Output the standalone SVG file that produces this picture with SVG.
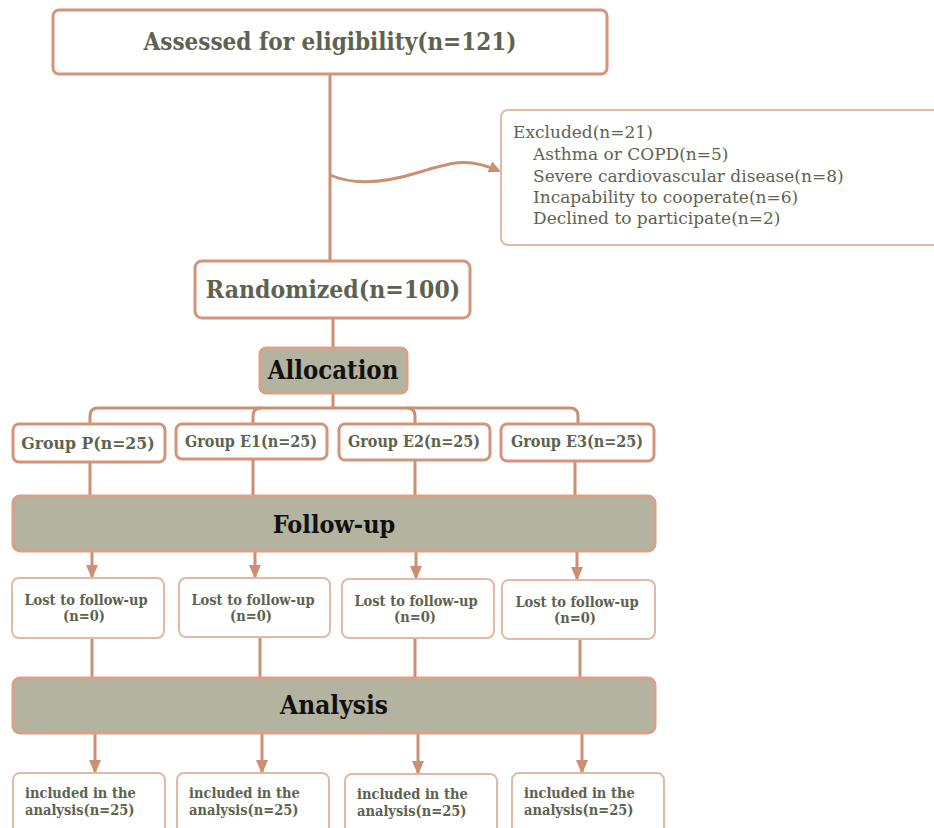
<svg xmlns="http://www.w3.org/2000/svg" width="934" height="828" viewBox="0 0 934 828">
<defs>
<style>
.box{fill:#ffffff;stroke:#d39479;stroke-width:3}
.thin{fill:#ffffff;stroke:#e3b9a6;stroke-width:2}
.grey{fill:#b3b3a0;stroke:#d9a187;stroke-width:3}
.t{font-family:"DejaVu Serif Condensed","DejaVu Serif",serif;fill:#5e634f}
.r{font-family:"DejaVu Serif",serif}
.b{font-weight:bold}
.k{fill:#111111}
.c{text-anchor:middle}
.ln{fill:none;stroke:#cc8f72;stroke-width:3}
.ar{marker-end:url(#ah2)}
</style>
<marker id="ah" markerWidth="12" markerHeight="12" refX="10" refY="6" orient="auto" markerUnits="userSpaceOnUse" viewBox="0 0 12 12">
<path d="M0,0 L12,6 L0,12 z" fill="#cc8f72"/>
</marker>
<marker id="ah2" markerWidth="14" markerHeight="14" refX="12" refY="7" orient="auto" markerUnits="userSpaceOnUse" viewBox="0 0 14 14">
<path d="M0,1 L14,7 L0,13 z" fill="#cc8f72"/>
</marker>
</defs>
<rect width="934" height="828" fill="#ffffff"/>
<g id="connectors">
<path class="ln" d="M330,74 V262"/>
<path class="ln" d="M330,175 C355,186 385,183 420,172 S470,158 499,171" marker-end="url(#ah)"/>
<path class="ln" d="M333,318 V348"/>
<path class="ln" d="M333,393 V408"/>
<path class="ln" d="M90,424 V416 Q90,408 98,408 H570 Q578,408 578,416 V424"/>
<path class="ln" d="M253,424 V416 Q253,408 261,408 M415,424 V416 Q415,408 407,408"/>
<path class="ln" d="M90,462 V496 M253,459 V496 M415,460 V496 M575,461 V496"/>
<path class="ln ar" d="M92,551 V577"/>
<path class="ln ar" d="M255,551 V577"/>
<path class="ln ar" d="M416,551 V578"/>
<path class="ln ar" d="M577,551 V579"/>
<path class="ln" d="M92,638 V678 M260,637 V678 M415,638 V678 M580,639 V678"/>
<path class="ln ar" d="M95,733 V772"/>
<path class="ln ar" d="M262,733 V772"/>
<path class="ln ar" d="M418,733 V773"/>
<path class="ln ar" d="M582,733 V772"/>
</g>
<g id="assessed">
<rect class="box" x="53" y="10" width="554" height="64" rx="6"/>
<text class="t b c" x="330" y="50" font-size="24">Assessed for eligibility(n=121)</text>
</g>
<g id="excluded">
<rect class="thin" x="501" y="110" width="445" height="135" rx="7"/>
<text class="t r" x="513" y="138" font-size="17">Excluded(n=21)</text>
<text class="t r" x="533" y="160" font-size="17">Asthma or COPD(n=5)</text>
<text class="t r" x="533" y="182" font-size="17">Severe cardiovascular disease(n=8)</text>
<text class="t r" x="533" y="203" font-size="17">Incapability to cooperate(n=6)</text>
<text class="t r" x="533" y="224" font-size="17">Declined to participate(n=2)</text>
</g>
<g id="randomized">
<rect class="box" x="195" y="261" width="275" height="57" rx="7"/>
<text class="t b c" x="333" y="298" font-size="24.5">Randomized(n=100)</text>
</g>
<g id="allocation">
<rect class="grey" x="260" y="348" width="147" height="45" rx="6"/>
<text class="t b c k" x="333" y="379" font-size="25.5">Allocation</text>
</g>
<g id="groupP">
<rect class="box" x="13" y="424" width="152" height="38" rx="6"/>
<text class="t b c" x="88" y="449" font-size="17.5">Group P(n=25)</text>
</g>
<g id="groupE1">
<rect class="box" x="176" y="424" width="151" height="35" rx="6"/>
<text class="t b c" x="251" y="447" font-size="16">Group E1(n=25)</text>
</g>
<g id="groupE2">
<rect class="box" x="339" y="424" width="151" height="36" rx="6"/>
<text class="t b c" x="414" y="447" font-size="16">Group E2(n=25)</text>
</g>
<g id="groupE3">
<rect class="box" x="501" y="424" width="153" height="37" rx="6"/>
<text class="t b c" x="577" y="447" font-size="16">Group E3(n=25)</text>
</g>
<g id="followup">
<rect class="grey" x="13" y="496" width="642" height="55" rx="7"/>
<text class="t b c k" x="334" y="533" font-size="25">Follow-up</text>
</g>
<g id="lost1">
<rect class="thin" x="12" y="578" width="152" height="60" rx="7"/>
<text class="t b c" x="86" y="605" font-size="14.5">Lost to follow-up</text>
<text class="t b c" x="84" y="621" font-size="14.5">(n=0)</text>
</g>
<g id="lost2">
<rect class="thin" x="179" y="578" width="151" height="59" rx="7"/>
<text class="t b c" x="253" y="605" font-size="14.5">Lost to follow-up</text>
<text class="t b c" x="251" y="621" font-size="14.5">(n=0)</text>
</g>
<g id="lost3">
<rect class="thin" x="342" y="579" width="152" height="59" rx="7"/>
<text class="t b c" x="416" y="606" font-size="14.5">Lost to follow-up</text>
<text class="t b c" x="415" y="622" font-size="14.5">(n=0)</text>
</g>
<g id="lost4">
<rect class="thin" x="502" y="580" width="153" height="59" rx="7"/>
<text class="t b c" x="577" y="607" font-size="14.5">Lost to follow-up</text>
<text class="t b c" x="575" y="623" font-size="14.5">(n=0)</text>
</g>
<g id="analysis">
<rect class="grey" x="13" y="678" width="642" height="55" rx="7"/>
<text class="t b c k" x="334" y="714" font-size="26">Analysis</text>
</g>
<g id="inc1">
<rect class="thin" x="13" y="773" width="152" height="62" rx="7"/>
<text class="t b" x="25" y="798" font-size="14.5">included in the</text>
<text class="t b" x="25" y="815" font-size="14.5">analysis(n=25)</text>
</g>
<g id="inc2">
<rect class="thin" x="177" y="773" width="152" height="62" rx="7"/>
<text class="t b" x="189" y="798" font-size="14.5">included in the</text>
<text class="t b" x="189" y="815" font-size="14.5">analysis(n=25)</text>
</g>
<g id="inc3">
<rect class="thin" x="345" y="774" width="152" height="62" rx="7"/>
<text class="t b" x="357" y="799" font-size="14.5">included in the</text>
<text class="t b" x="357" y="816" font-size="14.5">analysis(n=25)</text>
</g>
<g id="inc4">
<rect class="thin" x="512" y="773" width="152" height="62" rx="7"/>
<text class="t b" x="524" y="798" font-size="14.5">included in the</text>
<text class="t b" x="524" y="815" font-size="14.5">analysis(n=25)</text>
</g>
</svg>
